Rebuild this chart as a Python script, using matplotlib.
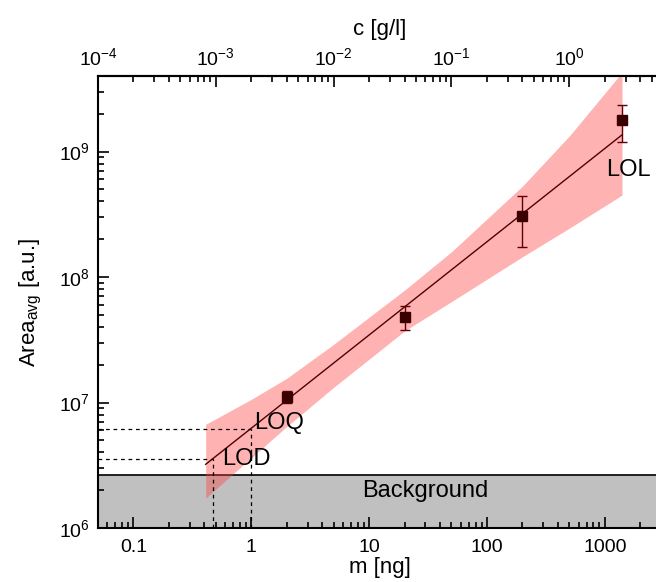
import numpy as np
import matplotlib
matplotlib.use("Agg")
import matplotlib.pyplot as plt
from matplotlib.ticker import LogLocator, FixedLocator, FuncFormatter, NullFormatter

plt.rcParams['font.family'] = ['Liberation Sans', 'DejaVu Sans']
plt.rcParams['mathtext.fontset'] = 'custom'
plt.rcParams['mathtext.rm'] = 'Liberation Sans'
plt.rcParams['mathtext.it'] = 'Liberation Sans:italic'
plt.rcParams['mathtext.bf'] = 'Liberation Sans:bold'

# Calibration measurements (injected mass vs. averaged peak area)
mass_ng = [2, 20, 200, 1400]
area_mean = [1.11e7, 4.82e7, 3.09e8, 1.78e9]
area_hi = [1.23e7, 5.83e7, 4.46e8, 2.34e9]
area_lo = [1.00e7, 3.79e7, 1.73e8, 1.20e9]

# Power-law calibration fit: area = fit_a * m ** fit_b
fit_a = 6.24e6
fit_b = 0.743
fit_range = [0.41, 1400]

# Confidence band around the fit
band_m = [0.41, 1, 2, 5, 20, 50, 200, 500, 1400]
band_upper = [6.70e6, 1.06e7, 1.56e7, 2.91e7, 7.87e7, 1.59e8, 5.30e8, 1.33e9, 4.27e9]
band_lower = [1.73e6, 3.63e6, 6.44e6, 1.32e7, 3.72e7, 6.37e7, 1.45e8, 2.45e8, 4.50e8]

# Detection / quantification limits and background level
lod_m, lod_area = 0.474, 3.55e6
loq_m, loq_area = 1.0, 6.2e6
background_level = 2.64e6

# Conversion from injected mass [ng] to concentration [g/l]
ng_to_gpl = 0.002
conc_ticks = [1e-4, 1e-3, 1e-2, 1e-1, 1e0]

x_limits = (0.05, 3000)
y_limits = (1e6, 4e9)

W, H = 656, 582
fig = plt.figure(figsize=(W / 100, H / 100), dpi=100)
ax = fig.add_axes([98 / W, 54 / H, 563 / W, 452 / H])
ax.set_xscale('log')
ax.set_yscale('log')
ax.set_xlim(*x_limits)
ax.set_ylim(*y_limits)

# background region
ax.axhspan(y_limits[0], background_level, facecolor='#c0c0c0', edgecolor='none', zorder=0)
ax.axhline(background_level, color='black', lw=1.2, zorder=1)
ax.text(30, 1.77e6, 'Background', ha='center', va='baseline', fontsize=17, zorder=5)

# confidence band
ax.fill_between(band_m, band_lower, band_upper, color='#ff4040', alpha=0.4,
                linewidth=0, zorder=2)

# fit line
m_fit = np.geomspace(fit_range[0], fit_range[1], 100)
ax.plot(m_fit, fit_a * m_fit ** fit_b, color='#500000', lw=1.0, zorder=3)

# measured points with error bars
mean = np.array(area_mean)
yerr = [mean - np.array(area_lo), np.array(area_hi) - mean]
ax.errorbar(mass_ng, area_mean, yerr=yerr, fmt='s', color='#3a0000', ms=7.4,
            mec='#3a0000', ecolor='#600000', elinewidth=1.0, capsize=3.8,
            capthick=1.0, zorder=4)

# LOD / LOQ guide lines
dash = (0, (3, 3))
for m_lim, a_lim in [(lod_m, lod_area), (loq_m, loq_area)]:
    ax.plot([x_limits[0], m_lim], [a_lim, a_lim], color='black', lw=0.9, ls=dash, zorder=3)
    ax.plot([m_lim, m_lim], [y_limits[0], a_lim], color='black', lw=0.9, ls=dash, zorder=3)

ax.text(0.57, 3.2e6, 'LOD', fontsize=17, ha='left', va='baseline', zorder=5)
ax.text(1.05, 6.2e6, 'LOQ', fontsize=17, ha='left', va='baseline', zorder=5)
ax.text(1036, 6.4e8, 'LOL', fontsize=17, ha='left', va='baseline', zorder=5)

# axes styling
for side in ['left', 'bottom', 'top']:
    ax.spines[side].set_linewidth(1.5)
ax.spines['right'].set_visible(False)

ax.xaxis.set_major_locator(LogLocator(base=10, numticks=20))
ax.xaxis.set_minor_locator(LogLocator(base=10, subs=np.arange(2, 10), numticks=20))
ax.xaxis.set_major_formatter(FuncFormatter(lambda v, p: '%g' % v))
ax.xaxis.set_minor_formatter(NullFormatter())

ax.yaxis.set_major_locator(LogLocator(base=10, numticks=20))
ax.yaxis.set_minor_locator(LogLocator(base=10, subs=np.arange(2, 10), numticks=20))
ax.yaxis.set_major_formatter(FuncFormatter(
    lambda v, p: r'$\mathregular{10^{%d}}$' % round(np.log10(v))))
ax.yaxis.set_minor_formatter(NullFormatter())

ax.tick_params(which='both', direction='in', top=False, right=False, width=1.2)
ax.tick_params(which='major', length=8, labelsize=14)
ax.tick_params(which='minor', length=4)
ax.tick_params(axis='x', which='major', pad=8)
ax.tick_params(axis='y', which='major', pad=6)

ax.set_xlabel('m [ng]', fontsize=16, labelpad=1)
ax.set_ylabel(r'Area$_\mathregular{avg}$ [a.u.]', fontsize=16, labelpad=11)

# concentration axis on top
sec = ax.secondary_xaxis('top', functions=(lambda m: np.asarray(m) * ng_to_gpl,
                                           lambda c: np.asarray(c) / ng_to_gpl))
sec.xaxis.set_major_locator(FixedLocator(conc_ticks))
minor_conc = [k * d for d in [1e-4, 1e-3, 1e-2, 1e-1, 1e0] for k in range(2, 10)
              if k * d <= x_limits[1] * ng_to_gpl]
sec.xaxis.set_minor_locator(FixedLocator(minor_conc))
sec.xaxis.set_major_formatter(FuncFormatter(
    lambda v, p: r'$\mathregular{10^{%d}}$' % round(np.log10(v))))
sec.xaxis.set_minor_formatter(NullFormatter())
sec.spines['top'].set_linewidth(1.5)
sec.tick_params(which='both', direction='in', width=1.2)
sec.tick_params(which='major', length=8, labelsize=14, pad=5)
sec.tick_params(which='minor', length=4)
sec.set_xlabel('c [g/l]', fontsize=16, labelpad=9)

fig.savefig('out.png', dpi=100)
